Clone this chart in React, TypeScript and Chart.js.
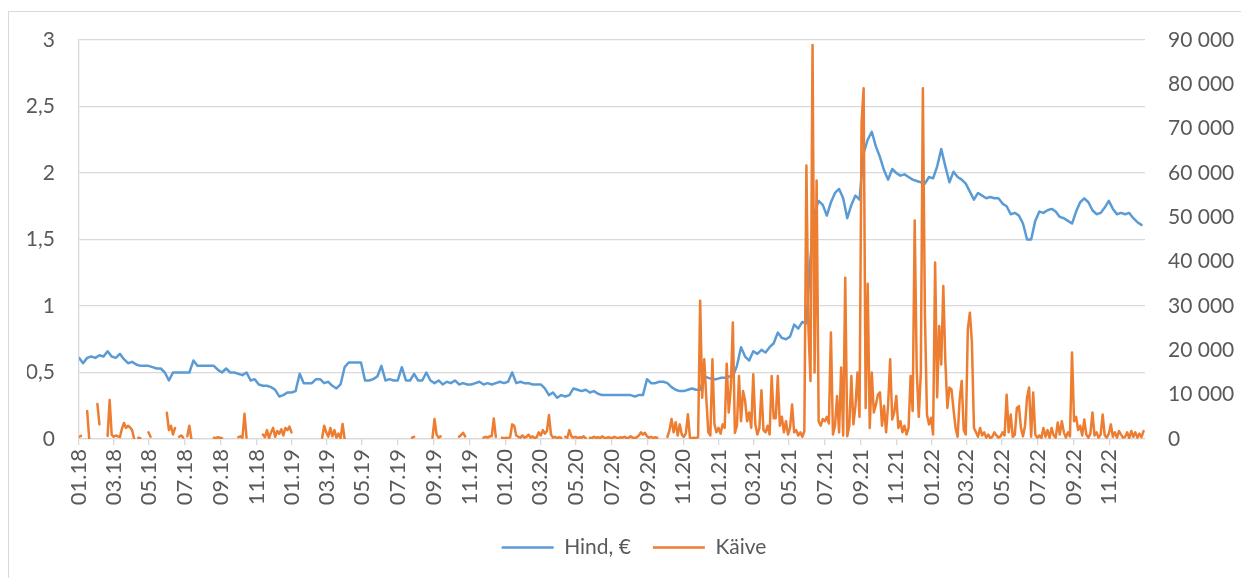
import React, { useEffect, useRef } from "react";
import { Chart, registerables } from "chart.js";

Chart.register(...registerables);

// ---- data ----
const START_DATE = "2018-01-01";
const END_DATE = "2023-01-01";
const PRICE_STEP_DAYS = 7; // one price value per week
const VOLUME_STEP_DAYS = 3.5; // one turnover value per half week

const tickLabels = [
  "01.18", "03.18", "05.18", "07.18", "09.18", "11.18",
  "01.19", "03.19", "05.19", "07.19", "09.19", "11.19",
  "01.20", "03.20", "05.20", "07.20", "09.20", "11.20",
  "01.21", "03.21", "05.21", "07.21", "09.21", "11.21",
  "01.22", "03.22", "05.22", "07.22", "09.22", "11.22",
];

const priceLabel = "Hind, €";
const volumeLabel = "Käive";

const leftTicks = [0, 0.5, 1, 1.5, 2, 2.5, 3];
const rightTicks = [0, 10000, 20000, 30000, 40000, 50000, 60000, 70000, 80000, 90000];

const price = [
  0.61, 0.57, 0.61, 0.62, 0.61, 0.63, 0.62, 0.66, 0.62, 0.61, 0.64, 0.6, 0.57,
  0.58, 0.56, 0.55, 0.55, 0.55, 0.54, 0.53, 0.53, 0.5, 0.44, 0.5, 0.5, 0.5,
  0.5, 0.5, 0.59, 0.55, 0.55, 0.55, 0.55, 0.55, 0.52, 0.5, 0.53, 0.5, 0.5,
  0.49, 0.48, 0.5, 0.44, 0.45, 0.41, 0.4, 0.4, 0.39, 0.37, 0.32, 0.33, 0.35,
  0.35, 0.36, 0.49, 0.42, 0.42, 0.42, 0.45, 0.45, 0.42, 0.43, 0.4, 0.38, 0.41,
  0.54, 0.575, 0.575, 0.575, 0.575, 0.44, 0.44, 0.45, 0.47, 0.55, 0.44, 0.45, 0.44,
  0.44, 0.54, 0.44, 0.44, 0.49, 0.44, 0.44, 0.5, 0.44, 0.42, 0.44, 0.41, 0.43,
  0.42, 0.44, 0.41, 0.42, 0.41, 0.41, 0.42, 0.43, 0.41, 0.42, 0.41, 0.42, 0.43,
  0.42, 0.43, 0.5, 0.42, 0.43, 0.42, 0.42, 0.41, 0.41, 0.41, 0.38, 0.33, 0.35,
  0.31, 0.33, 0.32, 0.33, 0.38, 0.37, 0.36, 0.37, 0.35, 0.36, 0.34, 0.33, 0.33,
  0.33, 0.33, 0.33, 0.33, 0.33, 0.33, 0.32, 0.33, 0.33, 0.45, 0.42, 0.42, 0.43,
  0.43, 0.42, 0.39, 0.37, 0.36, 0.36, 0.37, 0.38, 0.37, 0.37, 0.47, 0.46, 0.45,
  0.45, 0.46, 0.46, 0.47, 0.47, 0.55, 0.69, 0.62, 0.59, 0.66, 0.64, 0.67, 0.65,
  0.69, 0.72, 0.8, 0.76, 0.75, 0.77, 0.86, 0.83, 0.88, 0.87, 1.36, 1.7, 1.79,
  1.76, 1.68, 1.78, 1.85, 1.88, 1.81, 1.66, 1.76, 1.83, 1.8, 2.15, 2.25, 2.31,
  2.2, 2.12, 2.02, 1.95, 2.03, 2.0, 1.98, 1.99, 1.97, 1.95, 1.94, 1.93, 1.92,
  1.97, 1.96, 2.05, 2.18, 2.05, 1.93, 2.01, 1.97, 1.95, 1.92, 1.86, 1.8, 1.85,
  1.83, 1.81, 1.82, 1.81, 1.81, 1.77, 1.75, 1.69, 1.7, 1.68, 1.62, 1.5, 1.5,
  1.64, 1.71, 1.7, 1.72, 1.73, 1.71, 1.67, 1.66, 1.64, 1.62, 1.71, 1.78, 1.81,
  1.78, 1.72, 1.69, 1.7, 1.74, 1.79, 1.73, 1.69, 1.7, 1.69, 1.7, 1.66, 1.63, 1.61,
];

const _ = null;
const volume = [
  500, 700, _, _, 6300, 0, _, _, _, 7900, 3300, _, _, _, 700, 8800, 1000, 500, 800, 600, 400, 2300, 3600, 2500, 3000, 2600,
  2000, 0, _, 300, 200, _, _, _, 1500, 500, _, _, _, _, _, _, _, 5900, 2000, 3000, 1000, 2500, _, 500, 800, 300,
  _, 600, 3000, 0, _, _, _, _, _, _, _, _, _, _, 300, 200, 400, 300, 200, _, _, _, _, _, _, _,
  400, 600, 300, 5700, 300, _, _, _, _, _, _, _, 1000, 400, 2000, 200, 1500, 2500, 500, 1800, 1200, 2200, 800, 2500, 2000, 2800,
  1500, _, _, _, _, _, _, _, _, _, _, _, _, _, _, 300, 3000, 1500, 500, 2500, 600, 2000, 300, 1200, 200, 3400,
  0, _, _, _, _, _, _, _, _, _, _, _, _, _, _, _, _, _, _, _, _, _, _, _, _, _,
  _, _, _, _, _, _, _, 300, 500, _, _, _, _, _, _, _, _, 300, 4500, 1000, 300, 600, _, _, _, _,
  _, _, _, _, 500, 900, 1400, 600, _, _, _, _, _, _, _, _, 300, 500, 300, 600, 600, 4600, 500, _, _, 300,
  200, 300, 200, 400, 3300, 3000, 800, 500, 300, 800, 300, 500, 1000, 300, 600, 200, 400, 1500, 800, 2000, 1200, 1800, 5400, 1000, 300, 500,
  200, 400, 300, _, 500, 300, 2000, 600, 300, 500, 200, 400, 300, 600, 200, _, 300, 200, 500, 300, 400, 200, 600, 300, 200, 400,
  300, 200, 500, 300, 200, 400, 300, 500, 200, 300, 600, 300, 200, 400, 800, 1500, 1000, 1400, 600, 300, 500, 200, 400, 300, _, _,
  _, _, 500, 2000, 4500, 1500, 3800, 800, 3300, 1000, 500, 1200, 5600, 300, 200, 300, 200, 400, 31200, 9300, 18000, 9300, 1500, 800, 18000, 3300,
  1500, 2500, 1200, 3300, 2500, 17000, 6000, 11500, 26300, 1400, 3000, 14200, 4000, 10800, 8600, 4000, 6000, 2500, 14600, 3300, 1000, 2500, 11000, 2000, 1500, 3000,
  1000, 14200, 4700, 4700, 14200, 3000, 5000, 1500, 4000, 1000, 2500, 7800, 1500, 2000, 800, 1500, 500, 1800, 61700, 25000, 13100, 88900, 15000, 58300, 4000, 3000,
  4500, 4000, 5000, 3500, 24000, 1000, 3000, 9700, 1500, 16100, 800, 36400, 600, 3000, 14200, 3300, 7400, 15000, 5000, 71200, 79100, 7000, 35000, 2500, 15000, 6000,
  7700, 10000, 10500, 3000, 7500, 1500, 7800, 18000, 4400, 6000, 9700, 2500, 4000, 1500, 3000, 1000, 2500, 14200, 6300, 49300, 15400, 5000, 15000, 79100, 28200, 5500,
  3300, 4800, 1000, 39800, 9400, 25500, 16800, 34500, 17600, 7000, 11600, 11200, 6700, 2500, 500, 8900, 13100, 2000, 1000, 24800, 28500, 21800, 2500, 1500, 500, 2500,
  800, 1500, 300, 1000, 200, 500, 1500, 800, 300, 600, 1500, 800, 10000, 1500, 5500, 500, 1000, 7000, 7400, 2500, 600, 3000, 9400, 11600, 500, 10500,
  1000, 300, 800, 200, 2500, 500, 2000, 300, 2500, 800, 300, 3700, 1000, 4000, 1500, 300, 1500, 600, 19500, 4000, 5000, 2000, 3000, 800, 4400, 1000,
  300, 1200, 6000, 800, 1500, 300, 1000, 5500, 800, 300, 1200, 3300, 500, 1500, 300, 1800, 1000, 300, 500, 1500, 200, 1800, 500, 1500, 300, 1200, 400, 1800,
];

// ---- helpers ----
const DAY = 86400000;
const startMs = Date.parse(START_DATE + "T00:00:00Z");
const totalDays = (Date.parse(END_DATE + "T00:00:00Z") - startMs) / DAY;
const tickDays = tickLabels.map((l) => {
  const [mm, yy] = l.split(".");
  return (Date.UTC(2000 + Number(yy), Number(mm) - 1, 1) - startMs) / DAY;
});
const fmtLeft = (v: number) => String(v).replace(".", ",");
const fmtRight = (v: number) => String(v).replace(/\B(?=(\d{3})+(?!\d))/g, " ");

const FONT = "Lato";
const TEXT = "#595959";
const GRID = "#d9d9d9";
const BLUE = "#5B9BD5";
const ORANGE = "#ED7D31";

export default function App() {
  const ref = useRef<HTMLCanvasElement | null>(null);

  useEffect(() => {
    if (!ref.current) return;
    const chart = new Chart(ref.current, {
      type: "line",
      data: {
        datasets: [
          {
            label: priceLabel,
            data: price.map((v, i) => ({ x: i * PRICE_STEP_DAYS, y: v })),
            yAxisID: "y",
            borderColor: BLUE,
            backgroundColor: BLUE,
            pointBorderColor: BLUE,
            pointBackgroundColor: BLUE,
            borderWidth: 2.5,
            pointBorderWidth: 2.5,
            pointRadius: 0,
            pointHoverRadius: 0,
            pointStyle: "line",
            tension: 0,
            borderJoinStyle: "round",
            borderCapStyle: "round",
            order: 1,
          },
          {
            label: volumeLabel,
            data: volume.map((v, i) => ({ x: i * VOLUME_STEP_DAYS, y: v })),
            yAxisID: "y1",
            borderColor: ORANGE,
            backgroundColor: ORANGE,
            pointBorderColor: ORANGE,
            pointBackgroundColor: ORANGE,
            borderWidth: 2.5,
            pointBorderWidth: 2.5,
            pointRadius: 0,
            pointHoverRadius: 0,
            pointStyle: "line",
            tension: 0,
            spanGaps: false,
            borderJoinStyle: "round",
            borderCapStyle: "round",
            order: 0,
          },
        ],
      },
      options: {
        animation: false,
        responsive: true,
        maintainAspectRatio: false,
        layout: { padding: { top: 28, bottom: 10, left: 18, right: 0 } },
        font: { family: FONT },
        plugins: {
          tooltip: { enabled: false },
          legend: {
            position: "bottom",
            labels: {
              usePointStyle: true,
              pointStyle: "line",
              pointStyleWidth: 52,
              padding: 22,
              color: TEXT,
              font: { family: FONT, size: 21 },
              sort: (a: any, b: any) => a.datasetIndex - b.datasetIndex,
            },
          },
        },
        scales: {
          x: {
            type: "linear",
            min: 0,
            max: totalDays,
            afterBuildTicks: (axis: any) => {
              axis.ticks = tickDays.map((v) => ({ value: v }));
            },
            afterFit: (axis: any) => {
              axis.height = 76;
              axis.paddingLeft = 0;
              axis.paddingRight = 0;
            },
            ticks: {
              autoSkip: false,
              maxRotation: 90,
              minRotation: 90,
              padding: 4,
              color: TEXT,
              font: { family: FONT, size: 22 },
              callback: (_v: any, i: number) => tickLabels[i],
            },
            grid: {
              drawOnChartArea: false,
              drawTicks: true,
              tickLength: 6,
              color: GRID,
              lineWidth: 1.3,
            },
            border: { display: true, color: GRID, width: 1.3 },
          },
          y: {
            position: "left",
            min: 0,
            max: 3,
            afterBuildTicks: (axis: any) => {
              axis.ticks = leftTicks.map((v) => ({ value: v }));
            },
            afterFit: (axis: any) => {
              axis.width = 52;
              axis.paddingTop = 12;
              axis.paddingBottom = 12;
            },
            ticks: {
              padding: 24,
              color: TEXT,
              font: { family: FONT, size: 21 },
              callback: (v: any) => fmtLeft(Number(v)),
            },
            grid: { drawTicks: false, color: GRID, lineWidth: 1.3 },
            border: { display: true, color: GRID, width: 1.3 },
          },
          y1: {
            position: "right",
            min: 0,
            max: 90000,
            afterBuildTicks: (axis: any) => {
              axis.ticks = rightTicks.map((v) => ({ value: v }));
            },
            afterFit: (axis: any) => {
              axis.width = 96;
              axis.paddingTop = 12;
              axis.paddingBottom = 12;
            },
            ticks: {
              padding: 23,
              color: TEXT,
              font: { family: FONT, size: 21 },
              callback: (v: any) => fmtRight(Number(v)),
            },
            grid: { display: false, drawTicks: false },
            border: { display: false },
          },
        },
      },
    } as any);
    return () => chart.destroy();
  }, []);

  return (
    <div
      style={{
        position: "absolute",
        left: 8,
        top: 11,
        width: 1233,
        height: 567,
        boxSizing: "border-box",
        borderLeft: `1px solid ${GRID}`,
        borderTop: `1px solid ${GRID}`,
        background: "#fff",
      }}
    >
      <canvas ref={ref} style={{ display: "block" }} />
    </div>
  );
}
